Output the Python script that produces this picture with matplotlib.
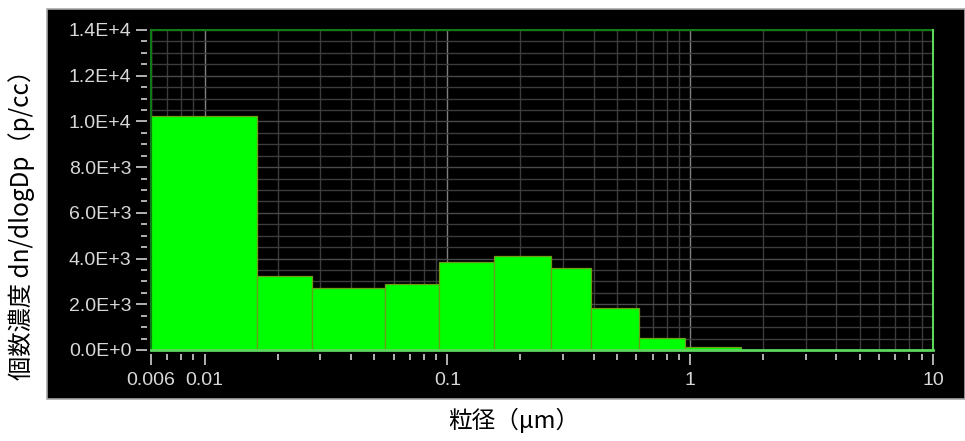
import numpy as np
import matplotlib.pyplot as plt
from matplotlib.ticker import FixedLocator, LogLocator, MultipleLocator, FuncFormatter, NullFormatter
from matplotlib.patches import Rectangle

# bin edges (um) and concentration
edges = [0.006, 0.0165, 0.0276, 0.0554, 0.0927, 0.155, 0.267, 0.39, 0.617, 0.956, 1.62]
conc = [10250, 3240, 2720, 2900, 3860, 4120, 3600, 1850, 540, 150]
xticks = [0.006, 0.01, 0.1, 1, 10]
xticklabels = ['0.006', '0.01', '0.1', '1', '10']

W, H = 965, 441
fig = plt.figure(figsize=(W / 100, H / 100), dpi=100, facecolor='white')

# black panel behind the chart
fig.patches.append(Rectangle((47 / W, 1 - 399 / H), 918 / W, 390 / H, transform=fig.transFigure,
                             facecolor='black', edgecolor='#a8a8a8', linewidth=1.2, zorder=-10))

ax = fig.add_axes([150.7 / W, 1 - 350 / H, (933 - 150.7) / W, 320 / H])
ax.set_facecolor('black')

ax.bar(edges[:-1], conc, width=np.diff(edges), align='edge',
       color='#00ff00', edgecolor='#6f9a1a', linewidth=0.9, zorder=3)

ax.set_xscale('log')
ax.set_xlim(0.006, 10)
ax.set_ylim(0, 14000)

ax.xaxis.set_major_locator(FixedLocator(xticks))
ax.xaxis.set_major_formatter(FuncFormatter(lambda v, p: xticklabels[xticks.index(v)] if v in xticks else ''))
ax.xaxis.set_minor_locator(LogLocator(base=10, subs=np.arange(2, 10), numticks=20))
ax.xaxis.set_minor_formatter(NullFormatter())

def efmt(v, p):
    if v == 0:
        return '0.0E+0'
    e = int(np.floor(np.log10(abs(v))))
    return '%.1fE+%d' % (v / 10 ** e, e)

ax.yaxis.set_major_locator(MultipleLocator(2000))
ax.yaxis.set_minor_locator(MultipleLocator(500))
ax.yaxis.set_major_formatter(FuncFormatter(efmt))

# grid
ax.set_axisbelow(True)
ax.grid(which='minor', axis='both', color='#3c3c3c', linewidth=1.0)
ax.grid(which='major', axis='y', color='#4a4a4a', linewidth=1.0)
ax.grid(which='major', axis='x', color='#808080', linewidth=1.0)

# ticks sit a little away from the frame
for s in ['left', 'bottom']:
    ax.spines[s].set_position(('outward', 3))
for s in ax.spines.values():
    s.set_color('none')
ax.tick_params(which='major', direction='out', length=8, width=1.2, color='#d0d0d0',
               labelcolor='#d8d8d8', labelsize=14, pad=3)
ax.tick_params(axis='x', which='major', pad=5)
ax.tick_params(which='minor', direction='out', length=4, width=1.2, color='#d0d0d0')
for lab in ax.get_xticklabels() + ax.get_yticklabels():
    lab.set_family('Liberation Sans')

# frame: dark green top/left, bright green right/bottom
ax.plot([0, 0], [0, 1], transform=ax.transAxes, color='#127a12', lw=1.5, clip_on=False, zorder=5)
ax.plot([0, 1], [1, 1], transform=ax.transAxes, color='#127a12', lw=1.5, clip_on=False, zorder=5)
ax.plot([1, 1], [0, 1], transform=ax.transAxes, color='#5cd65c', lw=1.5, clip_on=False, zorder=5)
ax.plot([0, 1], [0, 0], transform=ax.transAxes, color='#5cd65c', lw=2.0, clip_on=False, zorder=5)

fig.text(22 / W, 1 - 219 / H, '個数濃度 dn/dlogDp（p/cc）', rotation=90, ha='center', va='center',
         fontsize=17.5, color='black', family=['Noto Sans CJK JP', 'DejaVu Sans'])
fig.text(514 / W, 1 - 420 / H, '粒径（μm）', ha='center', va='center',
         fontsize=17, color='black', family=['Noto Sans CJK JP', 'DejaVu Sans'])

fig.savefig('out.png', dpi=100, facecolor='white')
